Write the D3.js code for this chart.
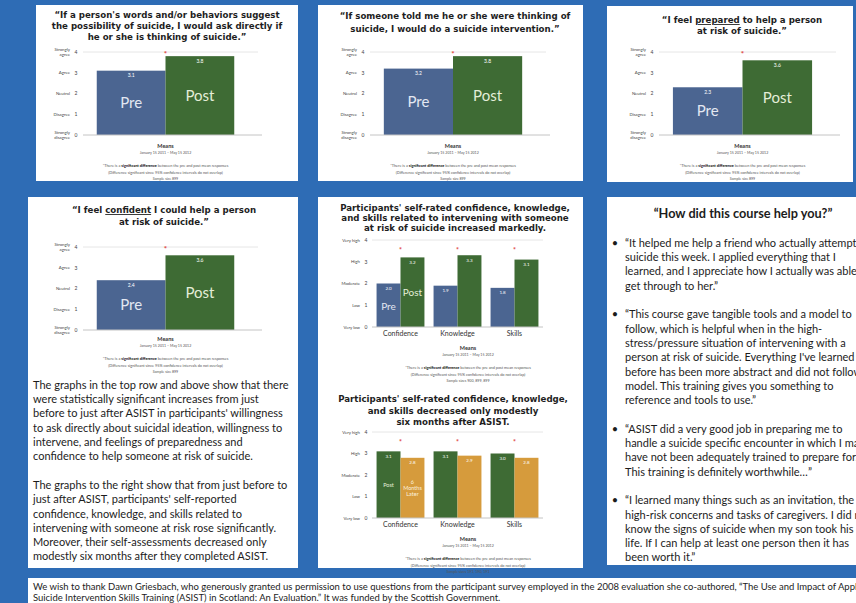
<!DOCTYPE html>
<html><head><meta charset="utf-8">
<script src="https://cdn.jsdelivr.net/npm/d3@7"></script>
<style>html,body{margin:0;padding:0;background:#2e6cb5;overflow:hidden}svg{display:block}</style>
</head><body><svg id="c" width="856" height="603"></svg>
<script>
// ---------- DATA ----------
const prePostLabels = ["Pre", "Post"];
const askDirectlyMeans = [3.1, 3.8];
const interveneMeans = [3.2, 3.8];
const preparedMeans = [2.3, 3.6];
const confidentMeans = [2.4, 3.6];
const scaleTicks = [0, 1, 2, 3, 4];
const agreementLabels = ["Strongly disagree", "Disagree", "Neutral", "Agree", "Strongly agree"];
const ratingLabels = ["Very low", "Low", "Moderate", "High", "Very high"];
const skillCategories = ["Confidence", "Knowledge", "Skills"];
const skillPreMeans = [2.0, 1.9, 1.8];
const skillPostMeans = [3.2, 3.3, 3.1];
const followUpSeries = ["Post", "6 Months Later"];
const followUpPostMeans = [3.1, 3.1, 3.0];
const followUpSixMonthMeans = [2.8, 2.9, 2.8];

const C = {bg:"#2e6cb5", pre:"#4b6591", post:"#3e6b34", six:"#d69b3c", text:"#2a2a2a"};
const svg = d3.select("#c");
svg.append("rect").attr("width", 856).attr("height", 603).attr("fill", C.bg);

// panels
[[36,5,262,176],[318,5,265,176],[607,6,246,176],[28,197,270,371],[318,197,265,371],[607,197,249,368],[28,578,828,25]]
  .forEach(p => svg.append("rect").attr("x",p[0]).attr("y",p[1]).attr("width",p[2]).attr("height",p[3]).attr("fill","#fff"));

const titleFont = "'DejaVu Sans', Verdana, sans-serif";
const bodyFont = "Lato, 'Noto Sans', sans-serif";
function fit(text, family, weight, width) {
  const t = svg.append("text").attr("font-family", family).attr("font-weight", weight).attr("font-size", 100).text(text);
  const w = t.node().getComputedTextLength(); t.remove();
  return 100 * width / w;
}
const titleSize = fit("Participants' self-rated confidence, knowledge,", titleFont, 700, 230);
const bodySize = fit("before to just after ASIST in participants' willingness", bodyFont, 400, 250);
const footSize = fit("Suicide Intervention Skills Training (ASIST) in Scotland:  An Evaluation.\u201D It was funded by the Scottish Government.", bodyFont, 400, 468);
const p6TitleSize = fit("\u201CHow did this course help you?\u201D", bodyFont, 700, 179);

function txt(x, y, s, size, o = {}) {
  return svg.append("text").attr("x", x).attr("y", y).attr("dy", "0.35em")
    .attr("font-family", o.family || bodyFont).attr("font-weight", o.weight || 400)
    .attr("font-size", size).attr("fill", o.fill || C.text)
    .attr("text-anchor", o.anchor || "middle").text(s);
}
function title(lines, cx, ys) {
  lines.forEach((segs, i) => {
    const t = svg.append("text").attr("x", cx).attr("y", ys[i]).attr("dy", "0.35em")
      .attr("text-anchor", "middle").attr("font-family", titleFont).attr("font-weight", 700)
      .attr("font-size", titleSize).attr("fill", "#1e1e1e");
    segs.forEach(s => {
      const sp = t.append("tspan").text(typeof s === "string" ? s : s.t);
      if (s.u) sp.style("text-decoration", "underline");
    });
  });
}
function notes(cx, y, date, sample) {
  txt(cx, y, "Means", 5.5, {weight: 700, fill: "#333"});
  txt(cx, y + 7, date, 3.6, {fill: "#555"});
  const t = svg.append("text").attr("x", cx).attr("y", y + 20).attr("dy", "0.35em").attr("text-anchor", "middle")
    .attr("font-family", bodyFont).attr("font-size", 3.8).attr("fill", "#555");
  t.append("tspan").text("*There is a ");
  t.append("tspan").attr("font-weight", 900).attr("fill", "#222").text("significant difference");
  t.append("tspan").text(" between the pre and post mean responses");
  txt(cx, y + 27, "(Difference significant since 95% confidence intervals do not overlap)", 3.8, {fill: "#555"});
  txt(cx, y + 33, sample, 3.6, {fill: "#555"});
}

// ---------- PRE / POST CHARTS ----------
function prePostChart(o) {
  const x = d3.scaleBand().domain(prePostLabels).range(o.xr).paddingInner(0).paddingOuter(0.2);
  const y = d3.scaleLinear().domain([0, 4]).range(o.yr);
  const data = prePostLabels.map((k, i) => ({k, v: o.values[i]}));
  svg.append("line").attr("x1", o.xr[0]).attr("x2", o.xr[1] + 10).attr("y1", y(4)).attr("y2", y(4)).attr("stroke", "#e6e6e6");
  svg.append("g").selectAll("rect").data(data).join("rect")
    .attr("x", d => x(d.k)).attr("width", x.bandwidth())
    .attr("y", d => y(d.v)).attr("height", d => y(0) - y(d.v))
    .attr("fill", d => d.k === "Pre" ? C.pre : C.post);
  svg.append("line").attr("x1", o.xr[0]).attr("x2", o.xr[1] + 14).attr("y1", y(0)).attr("y2", y(0)).attr("stroke", "#c4c4c4");
  scaleTicks.forEach(t => {
    txt(o.xr[0] - 7, y(t), t, 5, {fill: "#444"});
    const lab = agreementLabels[t].split(" ");
    if (lab.length > 1) {
      txt(o.xr[0] - 13, y(t) - 3, lab[0], 4.3, {anchor: "end", fill: "#444"});
      txt(o.xr[0] - 13, y(t) + 2.5, lab[1], 4.3, {anchor: "end", fill: "#444"});
    } else txt(o.xr[0] - 13, y(t), lab[0], 4.3, {anchor: "end", fill: "#444"});
  });
  data.forEach(d => {
    const cx = x(d.k) + x.bandwidth() / 2;
    txt(cx, y(d.v) + 5, d3.format(".1f")(d.v), 5, {fill: "#fff"});
    txt(cx, (y(d.v) + y(0)) / 2, d.k, 15, {fill: d.k === "Pre" ? "#e3e8f2" : "#e4eed8"});
  });
  txt(x("Post"), y(4) + 2, "*", 8, {fill: "#e0443c", weight: 700});
  title(o.title, o.tx, o.ty);
  notes((o.xr[0] + o.xr[1]) / 2, o.meansY, "January 15 2011 \u2013 May 15 2012", "Sample size 899");
}

prePostChart({values: askDirectlyMeans, xr: [83, 248], yr: [135, 52], tx: 167, ty: [15, 26, 37], meansY: 146,
  title: [["\u201CIf a person's words and/or behaviors suggest"], ["the possibility of suicide, I would ask directly if"], ["he or she is thinking of suicide.\u201D"]]});
prePostChart({values: interveneMeans, xr: [370, 536], yr: [135, 52], tx: 455, ty: [16, 29], meansY: 146,
  title: [["\u201CIf someone told me he or she were thinking of"], ["suicide, I would do a suicide intervention.\u201D"]]});
prePostChart({values: preparedMeans, xr: [659, 826], yr: [135, 52], tx: 742, ty: [20, 31], meansY: 146,
  title: [["\u201CI feel ", {t: "prepared", u: true}, " to help a person"], ["at risk of suicide.\u201D"]]});
prePostChart({values: confidentMeans, xr: [83, 248], yr: [330, 247], tx: 164, ty: [210, 222], meansY: 339,
  title: [["\u201CI feel ", {t: "confident", u: true}, " I could help a person"], ["at risk of suicide.\u201D"]]});

// ---------- GROUPED CHARTS ----------
function groupChart(o) {
  const x0 = d3.scaleBand().domain(skillCategories).range(o.xr).paddingInner(0.16).paddingOuter(0.08);
  const x1 = d3.scaleBand().domain(o.series).range([0, x0.bandwidth()]);
  const y = d3.scaleLinear().domain([0, 4]).range(o.yr);
  svg.append("line").attr("x1", o.xr[0]).attr("x2", o.xr[1]).attr("y1", y(4)).attr("y2", y(4)).attr("stroke", "#e6e6e6");
  const rows = [];
  skillCategories.forEach((c, i) => o.series.forEach((s, j) => rows.push({c, s, j, v: o.values[j][i]})));
  svg.append("g").selectAll("rect").data(rows).join("rect")
    .attr("x", d => x0(d.c) + x1(d.s)).attr("width", x1.bandwidth())
    .attr("y", d => y(d.v)).attr("height", d => y(0) - y(d.v))
    .attr("fill", d => o.colors[d.j]);
  svg.append("line").attr("x1", o.xr[0]).attr("x2", o.xr[1]).attr("y1", y(0)).attr("y2", y(0)).attr("stroke", "#c4c4c4");
  scaleTicks.forEach(t => {
    txt(o.xr[0] - 6, y(t), t, 5, {fill: "#444"});
    txt(o.xr[0] - 12, y(t), ratingLabels[t], 4.3, {anchor: "end", fill: "#444"});
  });
  rows.forEach(d => txt(x0(d.c) + x1(d.s) + x1.bandwidth() / 2, y(d.v) + 5, d3.format(".1f")(d.v), 4.5, {fill: "#fff"}));
  skillCategories.forEach(c => {
    txt(x0(c) + x0.bandwidth() / 2, y(0) + 7, c, 7, {fill: "#333"});
    txt(x0(c) + x1(o.series[1]), y(3.5), "*", 7, {fill: "#e0443c", weight: 700});
  });
  o.inBar(x0, x1, y);
  title(o.title, o.tx, o.ty);
  notes(468, o.meansY, "January 15 2011 \u2013 May 15 2012", o.sample);
}

groupChart({series: prePostLabels, values: [skillPreMeans, skillPostMeans], colors: [C.pre, C.post],
  xr: [372, 543], yr: [327, 240], tx: 455, ty: [208, 218, 228], meansY: 348, sample: "Sample sizes 900, 899, 899",
  title: [["Participants' self-rated confidence, knowledge,"], ["and skills related to intervening with someone"], ["at risk of suicide increased markedly."]],
  inBar: (x0, x1, y) => {
    const c = skillCategories[0];
    txt(x0(c) + x1("Pre") + x1.bandwidth() / 2, (y(skillPreMeans[0]) + y(0)) / 2 + 1, "Pre", 10, {fill: "#e3e8f2"});
    txt(x0(c) + x1("Post") + x1.bandwidth() / 2, (y(skillPostMeans[0]) + y(0)) / 2, "Post", 10, {fill: "#e4eed8"});
  }});
groupChart({series: followUpSeries, values: [followUpPostMeans, followUpSixMonthMeans], colors: [C.post, C.six],
  xr: [372, 543], yr: [518, 432], tx: 453, ty: [399, 411, 422], meansY: 539, sample: "Sample sizes 191, 190, 191",
  title: [["Participants' self-rated confidence, knowledge,"], ["and skills decreased only modestly"], ["six months after ASIST."]],
  inBar: (x0, x1, y) => {
    const c = skillCategories[0];
    txt(x0(c) + x1("Post") + x1.bandwidth() / 2, (y(followUpPostMeans[0]) + y(0)) / 2, "Post", 5.5, {fill: "#e4eed8"});
    const cx = x0(c) + x1("6 Months Later") + x1.bandwidth() / 2, cy = (y(followUpSixMonthMeans[0]) + y(0)) / 2;
    ["6", "Months", "Later"].forEach((w, i) => txt(cx, cy + (i - 1) * 6, w, 5.5, {fill: "#fbf0dc"}));
  }});

// ---------- TEXT BLOCKS ----------
const leftText = [
  "The graphs in the top row and above show that there",
  "were statistically significant increases from just",
  "before to just after ASIST in participants' willingness",
  "to ask directly about suicidal ideation, willingness to",
  "intervene, and feelings of preparedness and",
  "confidence to help someone at risk of suicide.",
  null,
  "The graphs to the right show that from just before to",
  "just after ASIST, participants' self-reported",
  "confidence, knowledge, and skills related to",
  "intervening with someone at risk rose significantly.",
  "Moreover, their self-assessments decreased only",
  "modestly six months after they completed ASIST."
];
leftText.forEach((l, i) => { if (l) txt(33, 385 + i * 14.3, l, bodySize, {anchor: "start", fill: "#1c1c1c"}); });

txt(743, 214, "\u201CHow did this course help you?\u201D", p6TitleSize, {weight: 700, fill: "#1c1c1c"});
const quotes = [
  ["\u201CIt helped me help a friend who actually attempted", "suicide this week. I applied everything that I", "learned, and I appreciate how I actually was able to", "get through to her.\u201D"],
  ["\u201CThis course gave tangible tools and a model to", "follow, which is helpful when in the high-", "stress/pressure situation of intervening with a", "person at risk of suicide. Everything I've learned", "before has been more abstract and did not follow a", "model. This training gives you something to", "reference and tools to use.\u201D"],
  ["\u201CASIST did a very good job in preparing me to", "handle a suicide specific encounter in which I may", "have not been adequately trained to prepare for.", "This training is definitely worthwhile\u2026\u201D"],
  ["\u201CI learned many things such as an invitation, the", "high-risk concerns and tasks of caregivers. I did not", "know the signs of suicide when my son took his", "life. If I can help at least one person then it has", "been worth it.\u201D"]
];
let row = 0;
quotes.forEach(q => {
  txt(615, 243 + row * 14.3, "\u2022", bodySize, {fill: "#1c1c1c"});
  q.forEach(l => { txt(625, 243 + row * 14.3, l, bodySize, {anchor: "start", fill: "#1c1c1c"}); row++; });
  row++;
});

txt(33, 587, "We wish to thank Dawn Griesbach, who generously granted us permission to use questions from the participant survey employed in the 2008 evaluation she co-authored, \u201CThe Use and Impact of Applied", footSize, {anchor: "start", fill: "#1c1c1c"});
txt(33, 598, "Suicide Intervention Skills Training (ASIST) in Scotland:  An Evaluation.\u201D It was funded by the Scottish Government.", footSize, {anchor: "start", fill: "#1c1c1c"});
</script></body></html>
